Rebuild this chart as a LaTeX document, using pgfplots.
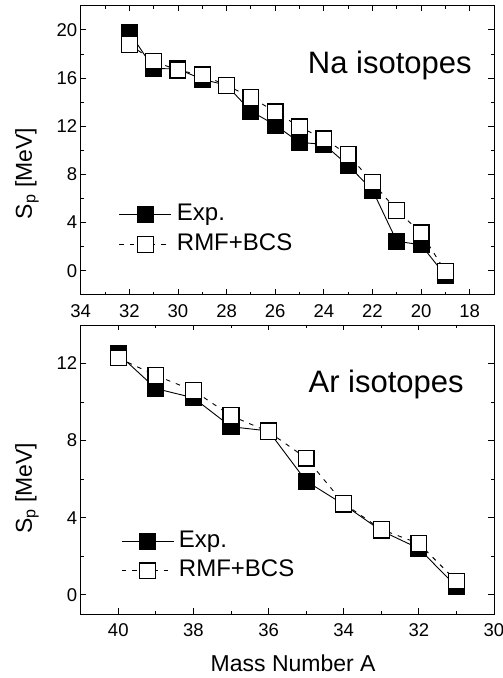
\documentclass[border=0pt]{standalone}
\usepackage{fontspec}
\setmainfont{Liberation Sans}
\usepackage{pgfplots}
\pgfplotsset{compat=1.18}
\begin{document}
\begin{tikzpicture}
\useasboundingbox (0,0) rectangle (503pt,678pt);
\pgfplotsset{
  every axis/.append style={
    scale only axis, width=413.3pt, height=289pt,
    x dir=reverse,
    axis line style={line width=0.9pt},
    tick style={line width=0.8pt, black},
    major tick length=5.5pt, minor tick length=3pt,
    tick align=inside,
    minor x tick num=1, minor y tick num=1,
    /pgf/number format/assume math mode=true,
    tick label style={font=\fontsize{18.5}{20}\selectfont},
    xticklabel style={yshift=-6pt},
    label style={font=\fontsize{23}{26}\selectfont},
    legend cell align=left,
    legend style={draw=none, fill=none, font=\fontsize{24}{26}\selectfont,
      row sep=3pt,
      nodes={inner sep=2pt, text height=17pt, text depth=5.5pt}},
    legend image code/.code={\draw[mark repeat=2,mark phase=2,#1] plot coordinates {(0pt,0pt) (26pt,0pt) (52pt,0pt)};},
  },
  expstyle/.style={black, line width=0.9pt, solid, mark=square*, mark size=7.9pt,
     mark options={solid, fill=black, line width=1.3pt}},
  rmfstyle/.style={black, line width=0.9pt, dash pattern=on 4.5pt off 6pt, mark=square*, mark size=7.9pt,
     mark options={solid, fill=white, line width=1.3pt}},
}
% Top panel: Na
\begin{axis}[
  at={(80.7pt,383.2pt)}, anchor=south west,
  xmin=17, xmax=34, ymin=-2, ymax=22,
  xtick={18,20,...,34}, ytick={0,4,...,20},
  ylabel={S\textsubscript{p} [MeV]},
  ylabel style={at={(axis description cs:-0.13,0.42)}, anchor=center},
  legend style={at={(axis description cs:0.085,0.33)}, anchor=north west},
]
\addplot[expstyle] coordinates {
 (32,19.8) (31,16.8) (30,16.75) (29,15.9) (28,15.4) (27,13.25) (26,12.1)
 (25,10.65) (24,10.5) (23,8.75) (22,6.7) (21,2.45) (20,2.15) (19,-0.4)};
\addlegendentry{\hspace{3pt}Exp.}
\addplot[rmfstyle] coordinates {
 (32,18.8) (31,17.4) (30,16.65) (29,16.25) (28,15.4) (27,14.4) (26,13.2)
 (25,11.95) (24,10.95) (23,9.65) (22,7.35) (21,5.0) (20,3.15) (19,-0.05)};
\addlegendentry{\hspace{3pt}RMF+BCS}
\node[anchor=base, font=\fontsize{31}{31}\selectfont] at (axis description cs:0.748,0.765) {Na isotopes};
\end{axis}
% Bottom panel: Ar
\begin{axis}[
  at={(80.7pt,64pt)}, anchor=south west,
  xmin=30, xmax=41, ymin=-1, ymax=14,
  xtick={30,32,...,40}, ytick={0,4,...,12},
  xlabel={Mass Number A},
  xlabel style={at={(axis description cs:0.514,-0.17)}, anchor=center},
  ylabel={S\textsubscript{p} [MeV]},
  ylabel style={at={(axis description cs:-0.13,0.435)}, anchor=center},
  legend style={at={(axis description cs:0.09,0.305)}, anchor=north west},
]
\addplot[expstyle] coordinates {
 (40,12.5) (39,10.7) (38,10.22) (37,8.72) (36,8.5) (35,5.9) (34,4.68)
 (33,3.32) (32,2.4) (31,0.42)};
\addlegendentry{\hspace{3pt}Exp.}
\addplot[rmfstyle] coordinates {
 (40,12.29) (39,11.38) (38,10.6) (37,9.29) (36,8.46) (35,7.09) (34,4.74)
 (33,3.39) (32,2.66) (31,0.71)};
\addlegendentry{\hspace{3pt}RMF+BCS}
\node[anchor=base, font=\fontsize{31}{31}\selectfont] at (axis description cs:0.739,0.768) {Ar isotopes};
\end{axis}
\end{tikzpicture}
\end{document}
